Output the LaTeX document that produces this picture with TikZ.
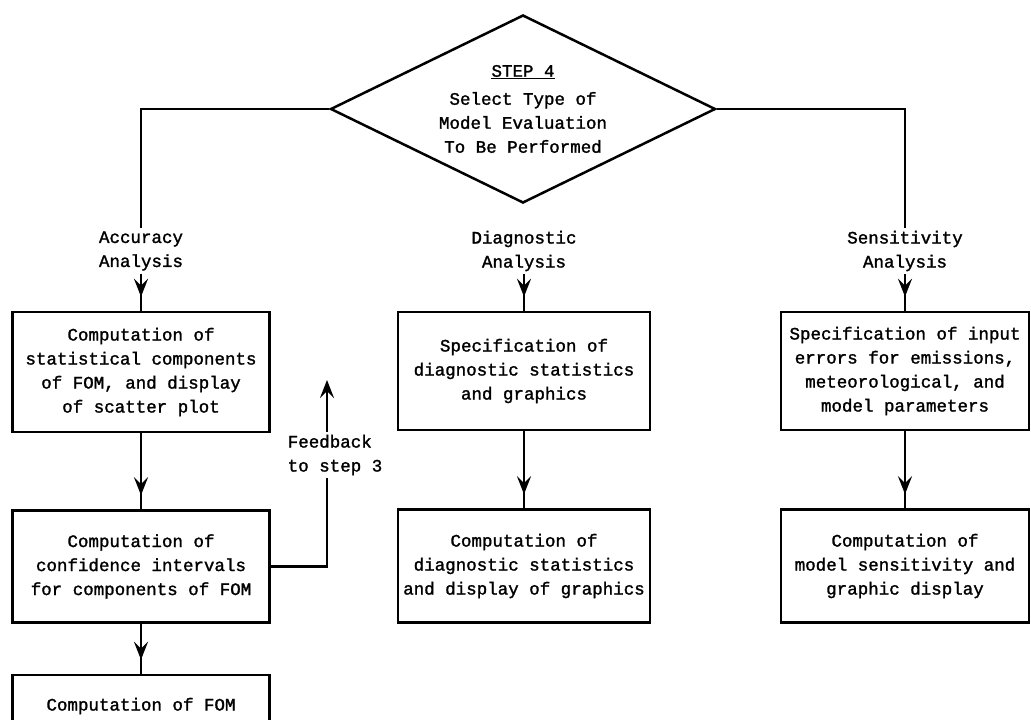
\documentclass[tikz,border=0pt]{standalone}
\usepackage{fontspec}
\newfontfamily\typewriter{Liberation Mono}[FakeBold=1.5]
\usetikzlibrary{shapes.geometric,positioning,arrows.meta,decorations.markings}

\tikzset{
  every node/.style={font=\typewriter\fontsize{17.5}{24}\selectfont},
  decision/.style={draw, diamond, aspect=2, inner sep=0pt, minimum width=385pt, minimum height=188pt, align=center},
  procbox/.style={draw, align=center, inner sep=0pt},
  heading/.style={align=center, inner sep=2pt},
  flowline/.style={line width=2.5pt},
  flowarrow/.style={flowline, postaction={decorate},
    decoration={markings, mark=at position -14pt with {\arrow{Stealth[length=18pt,width=14pt,inset=7pt]}}}},
}

\begin{document}
\begin{tikzpicture}[x=1pt, y=-1pt, line width=2.5pt]
    \useasboundingbox (0,0) rectangle (1031,720);
    \clip (0,0) rectangle (1031,720);

    \node [decision] (step4) at (523,109) {\underline{STEP 4}\\[4pt]Select Type of\\Model Evaluation\\To Be Performed};

    \node [heading] (acc)  at (141,251) {Accuracy\\Analysis};
    \node [heading] (diag) at (524,251) {Diagnostic\\Analysis};
    \node [heading] (sens) at (905,251) {Sensitivity\\Analysis};

    \node [procbox] [minimum width=257pt] [minimum height=120pt] (acc1) at (141,372) {Computation of\\statistical components\\of FOM, and display\\of scatter plot};
    \node [procbox] [minimum width=257pt] [minimum height=112pt] [below=76pt of acc1] (acc2) {Computation of\\confidence intervals\\for components of FOM};
    \node [procbox] [minimum width=257pt] [minimum height=62pt]  [below=50pt of acc2] (acc3) {Computation of FOM};

    \node [procbox] [minimum width=252pt] [minimum height=118pt] (diag1) at (524,371) {Specification of\\diagnostic statistics\\and graphics};
    \node [procbox] [minimum width=252pt] [minimum height=113pt] [below=77pt of diag1] (diag2) {Computation of\\diagnostic statistics\\and display of graphics};

    \node [procbox] [minimum width=248pt] [minimum height=118pt] (sens1) at (905,371) {Specification of input\\errors for emissions,\\meteorological, and\\model parameters};
    \node [procbox] [minimum width=248pt] [minimum height=113pt] [below=77pt of sens1] (sens2) {Computation of\\model sensitivity and\\graphic display};

    \node [heading] [align=left] (fbk) at (335,455) {Feedback\\to step 3};
    \coordinate (fbtop) at (327,380);

    \draw [flowline] (step4.west) -| (acc.north);
    \draw [flowline] (step4.east) -| (sens.north);

    \draw [flowarrow] (acc.south)   -- (acc1.north);
    \draw [flowarrow] (acc1.south)  -- (acc2.north);
    \draw [flowarrow] (acc2.south)  -- (acc3.north);

    \draw [flowarrow] (diag.south)  -- (diag1.north);
    \draw [flowarrow] (diag1.south) -- (diag2.north);

    \draw [flowarrow] (sens.south)  -- (sens1.north);
    \draw [flowarrow] (sens1.south) -- (sens2.north);

    \draw [flowline] (acc2.east) -| (fbk.south -| fbtop);
    \draw [flowline, -{Stealth[length=18pt,width=14pt,inset=7pt]}] (fbk.north -| fbtop) -- (fbtop);

\end{tikzpicture}
\end{document}
